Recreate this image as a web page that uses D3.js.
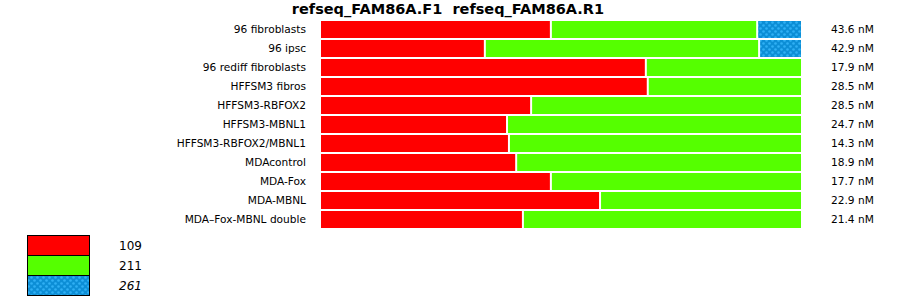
<!DOCTYPE html>
<html><head><meta charset="utf-8">
<script src="https://cdn.jsdelivr.net/npm/d3@7"></script>
<style>body{margin:0;background:#fff}svg{display:block}text{font-family:"DejaVu Sans",sans-serif}</style>
</head><body><div id="chart"></div>
<script>
const categories = ["96 fibroblasts","96 ipsc","96 rediff fibroblasts","HFFSM3 fibros","HFFSM3-RBFOX2","HFFSM3-MBNL1","HFFSM3-RBFOX2/MBNL1","MDAcontrol","MDA-Fox","MDA-MBNL","MDA\u2013Fox-MBNL double"];
const series = ["109","211","261"];
const s109 = [47.9,34.2,67.6,68.0,43.8,38.8,39.2,40.7,47.9,58.1,42.1];
const s211 = [42.8,56.9,32.4,32.0,56.2,61.2,60.8,59.3,52.1,41.9,57.9];
const s261 = [9.3,8.9,0,0,0,0,0,0,0,0,0];
const concentrations = ["43.6 nM","42.9 nM","17.9 nM","28.5 nM","28.5 nM","24.7 nM","14.3 nM","18.9 nM","17.7 nM","22.9 nM","21.4 nM"];
const title = "refseq_FAM86A.F1\u00a0\u00a0refseq_FAM86A.R1";

const W = 900, H = 299;
const svg = d3.select("#chart").append("svg").attr("width", W).attr("height", H);
const defs = svg.append("defs");
const pat = defs.append("pattern").attr("id","dots").attr("patternUnits","userSpaceOnUse")
  .attr("width",6).attr("height",6);
pat.append("rect").attr("width",6).attr("height",6).attr("fill","#0c8ed6");
pat.append("circle").attr("cx",1.5).attr("cy",1.5).attr("r",1.3).attr("fill","#2fb0f5");
pat.append("circle").attr("cx",4.5).attr("cy",4.5).attr("r",1.3).attr("fill","#2fb0f5");

const colors = ["#ff0000","#55ff00","url(#dots)"];

const x = d3.scaleLinear().domain([0,100]).range([320,802]);
const y = d3.scaleBand().domain(categories).range([20, 20 + 19*categories.length]).padding(0);

svg.append("text").attr("x",448).attr("y",14).attr("text-anchor","middle")
  .attr("font-weight","bold").attr("font-size",14.5).text(title);

const data = categories.map((c,i)=>({cat:c, vals:[s109[i],s211[i],s261[i]]}));
const stack = d3.stack().keys([0,1,2]).value((d,k)=>d.vals[k]);
const layers = stack(data);

layers.forEach((layer,k)=>{
  svg.append("g").selectAll("rect").data(layer.filter(d=>d[1]-d[0]>0)).join("rect")
    .attr("x", d=>x(d[0])+1)
    .attr("y", d=>y(d.data.cat)+1)
    .attr("width", d=>x(d[1])-x(d[0])-2)
    .attr("height", y.bandwidth()-2)
    .attr("fill", colors[k]);
});

svg.append("g").selectAll("text").data(categories).join("text")
  .attr("x",306).attr("y",d=>y(d)+y.bandwidth()/2).attr("dy","0.35em")
  .attr("text-anchor","end").attr("font-size",10.6).text(d=>d);

svg.append("g").selectAll("text").data(concentrations).join("text")
  .attr("x",831).attr("y",(d,i)=>y(categories[i])+y.bandwidth()/2).attr("dy","0.35em")
  .attr("font-size",10.6).text(d=>d);

const lg = svg.append("g");
series.forEach((s,k)=>{
  lg.append("rect").attr("x",27.5).attr("y",235.5+20*k).attr("width",62).attr("height",20)
    .attr("fill",colors[k]).attr("stroke","#000").attr("stroke-width",1);
  lg.append("text").attr("x",119).attr("y",245.5+20*k).attr("dy","0.35em")
    .attr("font-size",12).attr("font-style", k===2?"italic":"normal").text(s);
});
</script></body></html>
